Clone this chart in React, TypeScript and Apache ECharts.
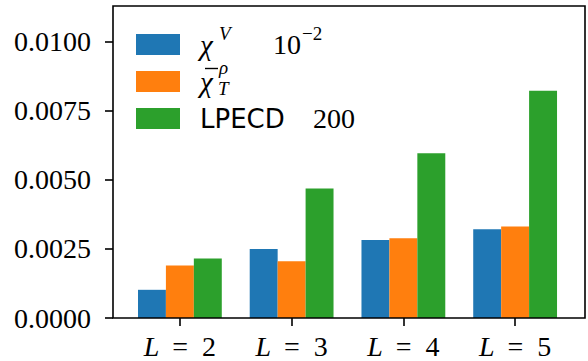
import React, { useEffect, useRef } from "react";
import * as echarts from "echarts";

const categories = ["2", "3", "4", "5"];
const chiV = [0.00102, 0.0025, 0.00282, 0.00321];
const chiBarT = [0.0019, 0.00205, 0.00289, 0.00331];
const lpecd = [0.00215, 0.00469, 0.00596, 0.00822];
const seriesNames = ["chiV", "chiBarT", "LPECD"];
const seriesColors = ["#1f77b4", "#ff7f0e", "#2ca02c"];
const yMin = 0;
const yMax = 0.011;
const yInterval = 0.0025;

const SERIF = "Liberation Serif";
const SANS = "DejaVu Sans";

function txt(text: string, x: number, y: number, size: number, family: string, italic = false) {
  return {
    type: "text",
    x,
    y,
    z: 100,
    silent: true,
    style: {
      text,
      fontSize: size,
      fontFamily: family,
      fontStyle: italic ? "italic" : "normal",
      fill: "#000",
      align: "left",
      verticalAlign: "middle",
    },
  };
}

export default function App() {
  const ref = useRef<HTMLDivElement>(null);
  useEffect(() => {
    if (!ref.current) return;
    const chart = echarts.init(ref.current, null, { renderer: "svg" });
    const dataArr = [chiV, chiBarT, lpecd];
    chart.setOption({
      animation: false,
      grid: { left: 124, right: 17, top: 6, bottom: 43, containLabel: false },
      legend: {
        orient: "vertical",
        left: 136,
        top: 34,
        padding: 0,
        itemWidth: 44,
        itemHeight: 21,
        itemGap: 16,
        icon: "rect",
        data: seriesNames,
        formatter: () => "",
        textStyle: { fontSize: 10 },
      },
      xAxis: {
        type: "category",
        data: categories,
        axisLine: { show: false },
        axisTick: { show: true, alignWithLabel: true, length: 8, lineStyle: { color: "#000", width: 1.6 } },
        axisLabel: {
          margin: 13,
          formatter: (v: string) => `{i|L}{eq|=}{n|${v}}`,
          rich: {
            i: { fontFamily: SERIF, fontStyle: "italic", fontSize: 28, lineHeight: 30, color: "#000" },
            eq: { fontFamily: SERIF, fontSize: 28, lineHeight: 30, padding: [0, 14, 0, 13], color: "#000" },
            n: { fontFamily: SERIF, fontSize: 28, lineHeight: 30, color: "#000" },
          },
        },
        splitLine: { show: false },
      },
      yAxis: {
        type: "value",
        min: yMin,
        max: yMax,
        interval: yInterval,
        offset: 11,
        axisLine: { show: false },
        axisTick: { show: true, length: 8, lineStyle: { color: "#000", width: 1.6 } },
        axisLabel: {
          margin: 22,
          formatter: (v: number) => `{v|${v.toFixed(4)}}`,
          rich: {
            v: { fontFamily: SERIF, fontSize: 28, lineHeight: 30, color: "#000" },
          },
        },
        splitLine: { show: false },
      },
      graphic: [
        {
          type: "rect",
          z: 100,
          silent: true,
          shape: { x: 113, y: 6, width: 472, height: 312 },
          style: { fill: "none", stroke: "#000", lineWidth: 1.6 },
        },
        // legend labels
        txt("χ", 200, 44.5, 29, SERIF, true),
        txt("V", 219, 33.5, 19, SERIF, true),
        txt("10", 273, 44.5, 28, SERIF),
        txt("−2", 302, 33.5, 19, SERIF),
        txt("χ", 200, 81.5, 29, SERIF, true),
        {
          type: "line",
          z: 100,
          silent: true,
          shape: { x1: 205, y1: 68.5, x2: 218, y2: 68.5 },
          style: { stroke: "#000", lineWidth: 1.4 },
        },
        txt("ρ", 219, 67.5, 19, SERIF, true),
        txt("T", 218, 88.5, 19, SERIF, true),
        txt("LPECD", 200, 119, 26, SANS),
        txt("200", 313, 118.5, 28, SERIF),
      ],
      series: seriesNames.map((name, i) => ({
        name,
        type: "bar",
        data: dataArr[i],
        barGap: "0%",
        barCategoryGap: "25%",
        itemStyle: { color: seriesColors[i] },
      })),
    });
    return () => chart.dispose();
  }, []);
  return (
    <div
      ref={ref}
      style={{ position: "fixed", left: 0, top: 0, width: 588, height: 361, background: "#fff" }}
    />
  );
}
